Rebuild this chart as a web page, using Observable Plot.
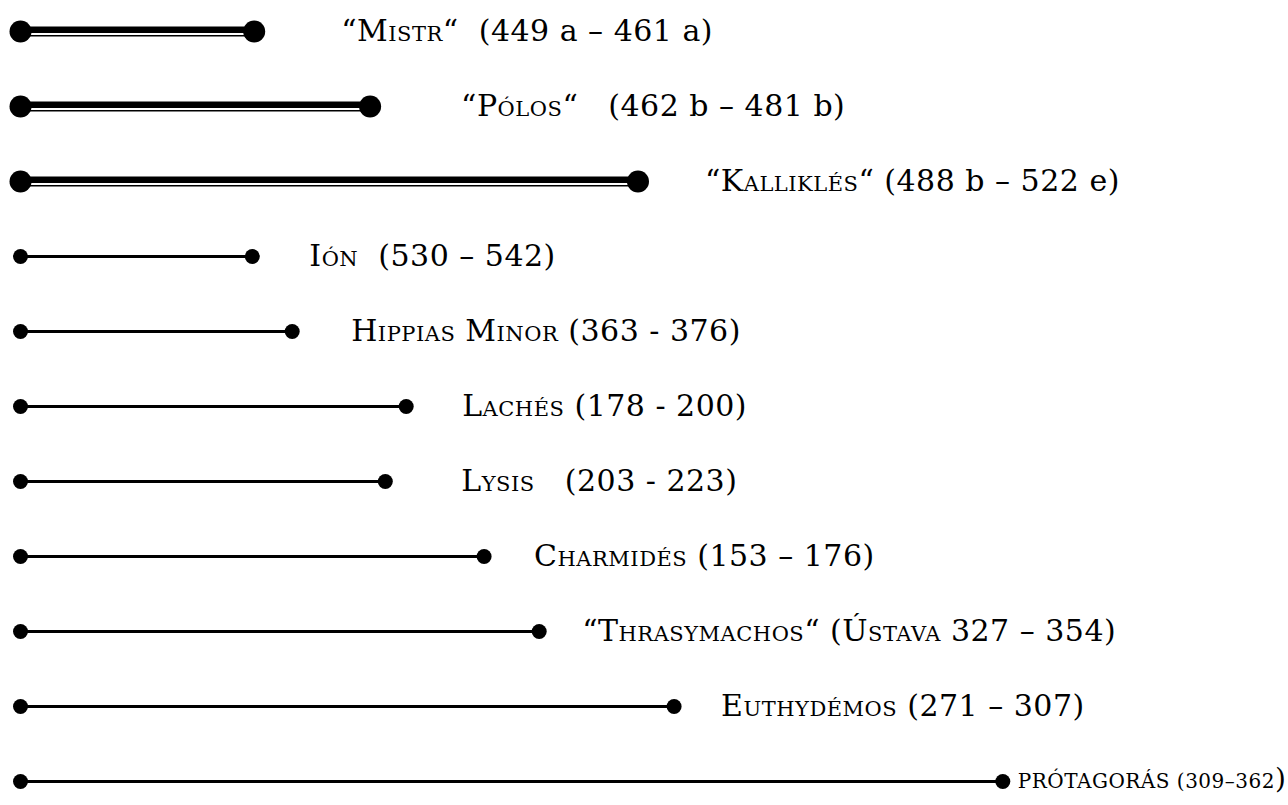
<!DOCTYPE html>
<html><head><meta charset="utf-8">
<script src="https://cdn.jsdelivr.net/npm/d3@7"></script>
<script src="https://cdn.jsdelivr.net/npm/@observablehq/plot@0.6"></script>
<style>body{margin:0;background:#fff} svg{display:block}</style>
</head><body><div id="chart"></div>
<script>
// Data
const names = ["“Mistr“", "“Pólos“", "“Kalliklés“", "Ión", "Hippias Minor", "Lachés", "Lysis", "Charmidés", "“Thrasymachos“ (Ústava", "Euthydémos", "Prótagorás"];
const ranges = ["(449 a – 461 a)", "(462 b – 481 b)", "(488 b – 522 e)", "(530 – 542)", "(363 - 376)", "(178 - 200)", "(203 - 223)", "(153 – 176)", "327 – 354)", "(271 – 307)", "(309–362)"];
const separators = ["\u00A0\u00A0", "\u00A0\u00A0\u00A0", " ", "\u00A0\u00A0", " ", " ", "\u00A0\u00A0\u00A0", " ", " ", " ", " "];
const lengths = [12.3, 18.4, 32.5, 12.2, 14.3, 20.3, 19.2, 24.4, 27.3, 34.4, 51.7];
const part = ["Gorgias", "Gorgias", "Gorgias", "", "", "", "", "", "", "", ""];

const rows = names.map((n, i) => ({key: i, name: n, sep: separators[i], range: ranges[i], len: lengths[i], gorgias: part[i] === "Gorgias"}));
const keys = rows.map(d => d.key);
const dbl = rows.filter(d => d.gorgias);
const sgl = rows.filter(d => !d.gorgias);
const ends = rows.flatMap(d => [{...d, at: 0}, {...d, at: d.len}]);

// layout (not data): label offsets from line end, px
const labelGap = [87, 91, 67, 57, 59, 56, 76, 50, 43, 47, 15];
const FONT = "'DejaVu Serif', serif";

const labelMarks = rows.map((d, i) => Plot.text([d], {
  x: "len", y: "key", text: r => r.name + r.sep + r.range,
  dx: labelGap[i], textAnchor: "start", lineAnchor: "middle",
  fontSize: i === 10 ? 20 : 30, fill: "black", className: "lbl-" + i
}));

const chart = Plot.plot({
  width: 1288, height: 805, margin: 0,
  style: {fontFamily: FONT, background: "white"},
  x: {domain: [0, 60], range: [20, 1160], axis: null},
  y: {type: "point", domain: keys, range: [29, 783], padding: 0, axis: null},
  marks: [
    Plot.ruleY(dbl, {y: "key", x1: 0, x2: "len", stroke: "black", strokeWidth: 10}),
    Plot.ruleY(dbl, {y: "key", x1: 0, x2: "len", stroke: "white", strokeWidth: 2, dy: 2.5}),
    Plot.ruleY(sgl, {y: "key", x1: 0, x2: "len", stroke: "black", strokeWidth: 3}),
    Plot.dot(ends.filter(d => d.gorgias), {x: "at", y: "key", r: 11, fill: "black", stroke: "none"}),
    Plot.dot(ends.filter(d => !d.gorgias), {x: "at", y: "key", r: 7.5, fill: "black", stroke: "none"}),
    ...labelMarks
  ]
});

// rebuild each label as small-caps name + normal range
rows.forEach((d, i) => {
  const t = d3.select(chart).select(".lbl-" + i + " text");
  t.text(null).style("white-space", "pre").style("letter-spacing", "0.5px");
  if (i === 10) {
    t.append("tspan").text((d.name + d.sep + d.range.slice(0, -1)).toUpperCase());
    t.append("tspan").text(")").style("font-size", "28px");
  } else {
    t.append("tspan").style("font-variant", "small-caps").text(d.name);
    t.append("tspan").text(d.sep + d.range);
  }
});

document.getElementById("chart").appendChild(chart);
</script>
</body></html>
